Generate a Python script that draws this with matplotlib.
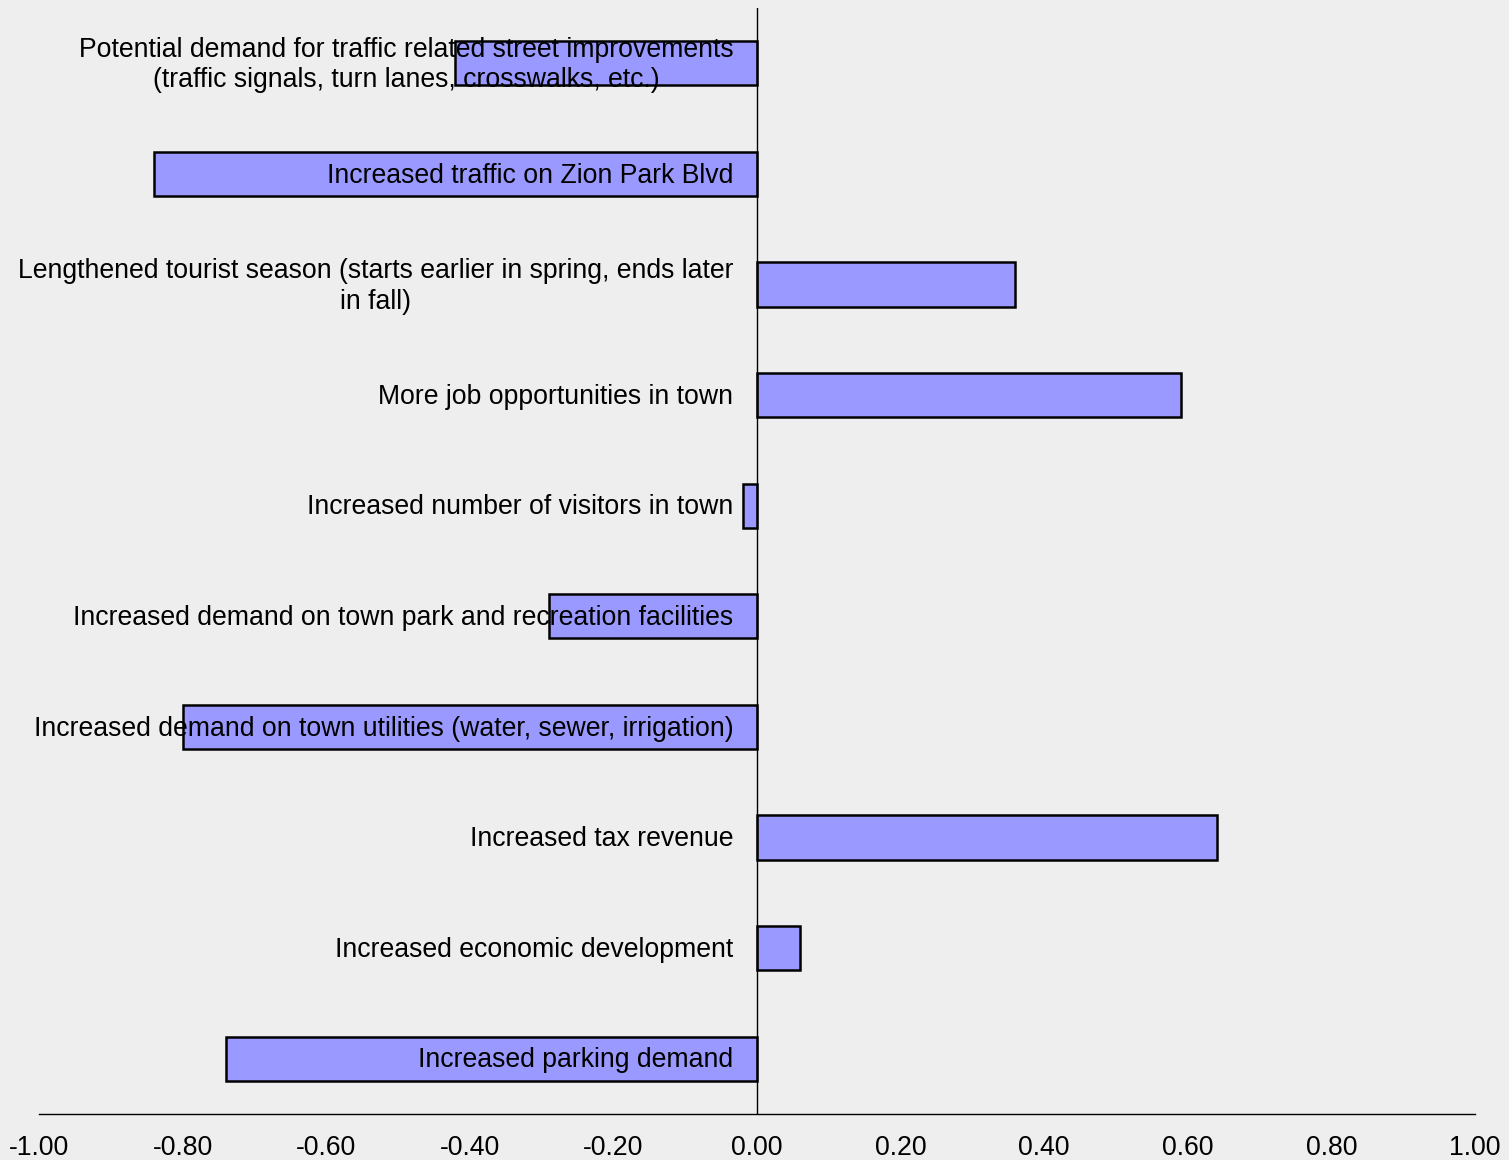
import numpy as np
import matplotlib.pyplot as plt

plt.rcParams['font.family'] = ['Liberation Sans', 'DejaVu Sans']
plt.rcParams['axes.unicode_minus'] = False

# categories top to bottom
categories = [
    "Potential demand for traffic related street improvements\n(traffic signals, turn lanes, crosswalks, etc.)",
    "Increased traffic on Zion Park Blvd",
    "Lengthened tourist season (starts earlier in spring, ends later\nin fall)",
    "More job opportunities in town",
    "Increased number of visitors in town",
    "Increased demand on town park and recreation facilities",
    "Increased demand on town utilities (water, sewer, irrigation)",
    "Increased tax revenue",
    "Increased economic development",
    "Increased parking demand",
]
values = [-0.42, -0.84, 0.36, 0.59, -0.02, -0.29, -0.80, 0.64, 0.06, -0.74]
xticks = [-1.0, -0.8, -0.6, -0.4, -0.2, 0.0, 0.2, 0.4, 0.6, 0.8, 1.0]

bg = "#EEEEEE"
fig = plt.figure(figsize=(15.09, 11.60), dpi=100, facecolor=bg)
ax = fig.add_axes([0.0258, 0.0397, 0.9517, 0.9534], facecolor=bg)

y = np.arange(len(categories))
ax.barh(y, values, height=0.4, color="#9999FF", edgecolor="black",
        linewidth=1.8, zorder=2)
ax.axvline(0, color="black", lw=1, zorder=3)

for yi, lab in zip(y, categories):
    ax.text(-0.033, yi + 0.015, lab, ha="right", va="center", multialignment="center",
            fontsize=19.2, linespacing=1.24, zorder=4)

ax.set_xlim(-1, 1)
ax.set_ylim(len(categories) - 0.5, -0.5)
ax.set_xticks(xticks)
ax.set_xticklabels([f"{t:.2f}" for t in xticks], fontsize=19.2)
ax.set_yticks([])
ax.tick_params(axis="x", length=0, pad=15)
for s in ["top", "right", "left"]:
    ax.spines[s].set_visible(False)
ax.spines["bottom"].set_linewidth(1)

fig.savefig("out.png", dpi=100, facecolor=bg)
